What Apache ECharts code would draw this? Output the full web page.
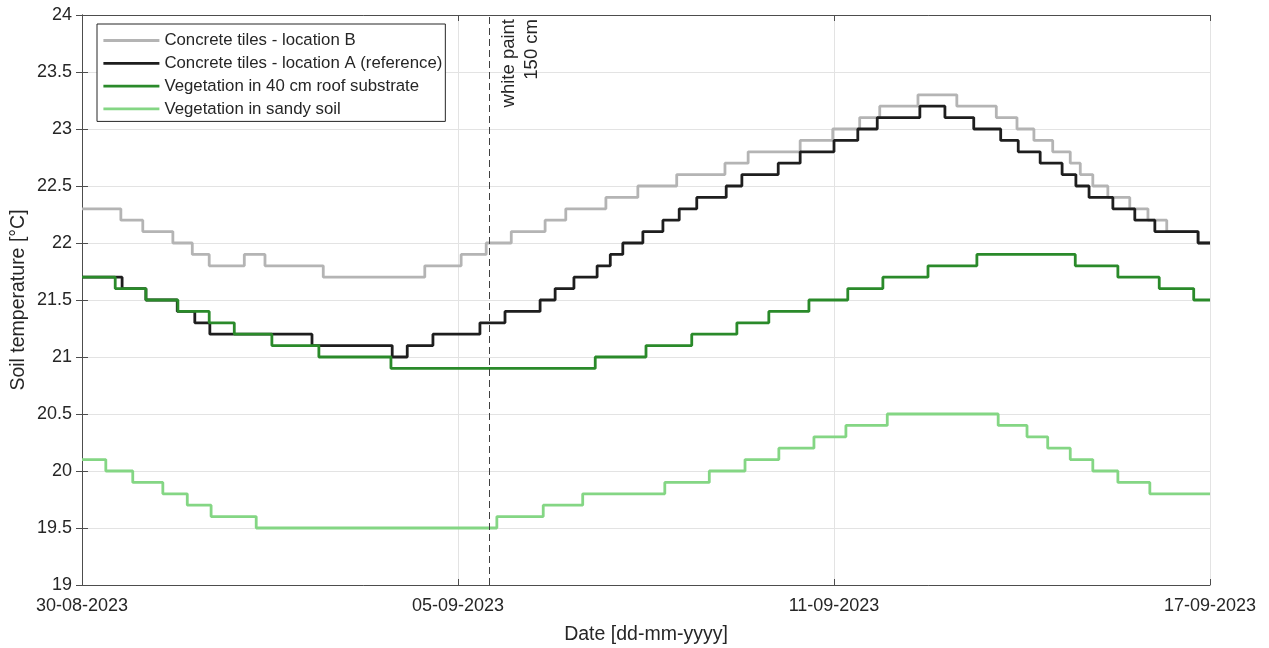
<!DOCTYPE html>
<html>
<head>
<meta charset="utf-8">
<title>Soil temperature</title>
<script src="https://cdn.jsdelivr.net/npm/echarts@6/dist/echarts.min.js"></script>
<style>
    html, body { margin: 0; padding: 0; background: #fff; }
    #soilchart { width: 1269px; height: 648px; }
</style>
</head>
<body>
<div id="soilchart"></div>
<script>
// x values are days since 30-08-2023 00:00, each point is where the step changes
const xTickLabels = ['30-08-2023', '05-09-2023', '11-09-2023', '17-09-2023'];
const paintDay = 6.5;
const paintLabel = 'white paint\n150 cm';

const tilesBDays = [0, 0.62, 0.97, 1.45, 1.76, 2.03, 2.59, 2.92, 3.85, 5.47, 6.05, 6.45, 6.85, 7.39, 7.72, 8.36, 8.87, 9.49, 10.26, 10.63, 11.46, 11.98, 12.41, 12.73, 13.34, 13.96, 14.59, 14.92, 15.19, 15.49, 15.77, 15.93, 16.13, 16.37, 16.72, 17.01, 17.31, 17.81, 18];
const tilesBTemps = [22.3, 22.2, 22.1, 22.0, 21.9, 21.8, 21.9, 21.8, 21.7, 21.8, 21.9, 22.0, 22.1, 22.2, 22.3, 22.4, 22.5, 22.6, 22.7, 22.8, 22.9, 23.0, 23.1, 23.2, 23.3, 23.2, 23.1, 23.0, 22.9, 22.8, 22.7, 22.6, 22.5, 22.4, 22.3, 22.2, 22.1, 22.0, 22.0];

const tilesADays = [0, 0.64, 1.02, 1.52, 1.80, 2.04, 3.67, 4.95, 5.19, 5.60, 6.35, 6.75, 7.31, 7.55, 7.85, 8.22, 8.43, 8.63, 8.95, 9.27, 9.53, 9.81, 10.28, 10.53, 11.11, 11.46, 12.00, 12.38, 12.69, 13.37, 13.77, 14.23, 14.66, 14.94, 15.29, 15.64, 15.86, 16.07, 16.45, 16.80, 17.12, 17.81, 18];
const tilesATemps = [21.7, 21.6, 21.5, 21.4, 21.3, 21.2, 21.1, 21.0, 21.1, 21.2, 21.3, 21.4, 21.5, 21.6, 21.7, 21.8, 21.9, 22.0, 22.1, 22.2, 22.3, 22.4, 22.5, 22.6, 22.7, 22.8, 22.9, 23.0, 23.1, 23.2, 23.1, 23.0, 22.9, 22.8, 22.7, 22.6, 22.5, 22.4, 22.3, 22.2, 22.1, 22.0, 22.0];

const roofDays = [0, 0.53, 1.02, 1.53, 2.03, 2.43, 3.03, 3.78, 4.93, 8.19, 9.00, 9.73, 10.45, 10.96, 11.60, 12.22, 12.78, 13.50, 14.28, 15.85, 16.53, 17.19, 17.74, 18];
const roofTemps = [21.7, 21.6, 21.5, 21.4, 21.3, 21.2, 21.1, 21.0, 20.9, 21.0, 21.1, 21.2, 21.3, 21.4, 21.5, 21.6, 21.7, 21.8, 21.9, 21.8, 21.7, 21.6, 21.5, 21.5];

const sandyDays = [0, 0.38, 0.81, 1.29, 1.68, 2.06, 2.78, 6.62, 7.36, 7.99, 9.30, 10.01, 10.58, 11.12, 11.68, 12.19, 12.85, 14.62, 15.08, 15.41, 15.77, 16.13, 16.53, 17.04, 18];
const sandyTemps = [20.1, 20.0, 19.9, 19.8, 19.7, 19.6, 19.5, 19.6, 19.7, 19.8, 19.9, 20.0, 20.1, 20.2, 20.3, 20.4, 20.5, 20.4, 20.3, 20.2, 20.1, 20.0, 19.9, 19.8, 19.8];

const zip = (xs, ys) => xs.map((x, i) => [x, ys[i]]);

const axisColor = '#4d4d4d';
const textColor = '#262626';
const fontFamily = '"Liberation Sans", Arial, sans-serif';

function stepSeries(name, color, days, temps) {
    return {
        name: name,
        type: 'line',
        step: 'end',
        symbol: 'none',
        animation: false,
        lineStyle: { color: color, width: 2.8 },
        itemStyle: { color: color },
        data: zip(days, temps)
    };
}

let series = [
    stepSeries('Concrete tiles - location B', '#b4b4b4', tilesBDays, tilesBTemps),
    stepSeries('Concrete tiles - location A (reference)', '#1e1e1e', tilesADays, tilesATemps),
    stepSeries('Vegetation in 40 cm roof substrate', '#2a8a2a', roofDays, roofTemps),
    stepSeries('Vegetation in sandy soil', '#84d684', sandyDays, sandyTemps)
];
series[1].markLine = {
    silent: true,
    symbol: 'none',
    animation: false,
    lineStyle: { color: '#404040', width: 1, type: [7, 4] },
    label: {
        show: true,
        formatter: paintLabel,
        position: 'insideEndBottom',
        distance: [4, 8],
        color: textColor,
        fontSize: 18.5,
        fontFamily: fontFamily,
        lineHeight: 23
    },
    data: [{ xAxis: paintDay }]
};

let option = {
    backgroundColor: '#fff',
    animation: false,
    textStyle: { fontFamily: fontFamily },
    grid: { left: 82, right: 59, top: 15, bottom: 63, outerBoundsMode: 'none', containLabel: false },
    legend: {
        orient: 'vertical',
        left: 97,
        top: 24,
        padding: [8, 3, 4, 5],
        itemWidth: 56,
        itemHeight: 14,
        itemGap: 5.8,
        backgroundColor: '#fff',
        borderColor: '#262626',
        borderWidth: 1,
        borderRadius: 0,
        itemStyle: { opacity: 0 },
        lineStyle: { width: 2.8 },
        textStyle: { color: textColor, fontSize: 16.8, fontFamily: fontFamily },
        data: series.map(s => s.name)
    },
    xAxis: [{
        type: 'value',
        min: 0,
        max: 18,
        interval: 6,
        position: 'bottom',
        name: 'Date [dd-mm-yyyy]',
        nameLocation: 'middle',
        nameGap: 40,
        nameMoveOverlap: false,
        nameTextStyle: { color: textColor, fontSize: 19.5, fontFamily: fontFamily },
        axisLine: { show: true, lineStyle: { color: axisColor } },
        axisTick: { show: true, inside: true, length: 6, lineStyle: { color: axisColor } },
        axisLabel: {
            color: textColor,
            fontSize: 18,
            fontFamily: fontFamily,
            margin: 12,
            formatter: v => xTickLabels[Math.round(v / 6)]
        },
        splitLine: { show: true, lineStyle: { color: '#e3e3e3' } }
    }, {
        type: 'value',
        min: 0,
        max: 18,
        interval: 6,
        position: 'top',
        axisLine: { show: true, lineStyle: { color: axisColor } },
        axisTick: { show: true, inside: true, length: 6, lineStyle: { color: axisColor } },
        axisLabel: { show: false },
        splitLine: { show: false }
    }],
    yAxis: [{
        type: 'value',
        min: 19,
        max: 24,
        interval: 0.5,
        position: 'left',
        name: 'Soil temperature [°C]',
        nameLocation: 'middle',
        nameGap: 53,
        nameMoveOverlap: false,
        nameTextStyle: { color: textColor, fontSize: 19.5, fontFamily: fontFamily },
        axisLine: { show: true, lineStyle: { color: axisColor } },
        axisTick: { show: true, inside: true, length: 6, lineStyle: { color: axisColor } },
        axisLabel: { color: textColor, fontSize: 18, fontFamily: fontFamily, margin: 10 },
        splitLine: { show: true, lineStyle: { color: '#e3e3e3' } }
    }, {
        type: 'value',
        min: 19,
        max: 24,
        interval: 0.5,
        position: 'right',
        axisLine: { show: true, lineStyle: { color: axisColor } },
        axisTick: { show: true, inside: true, length: 6, lineStyle: { color: axisColor } },
        axisLabel: { show: false },
        splitLine: { show: false }
    }],
    series: series
};

let myChart = echarts.init(document.getElementById('soilchart'));
myChart.setOption(option);
window.addEventListener('resize', myChart.resize);
</script>
</body>
</html>
